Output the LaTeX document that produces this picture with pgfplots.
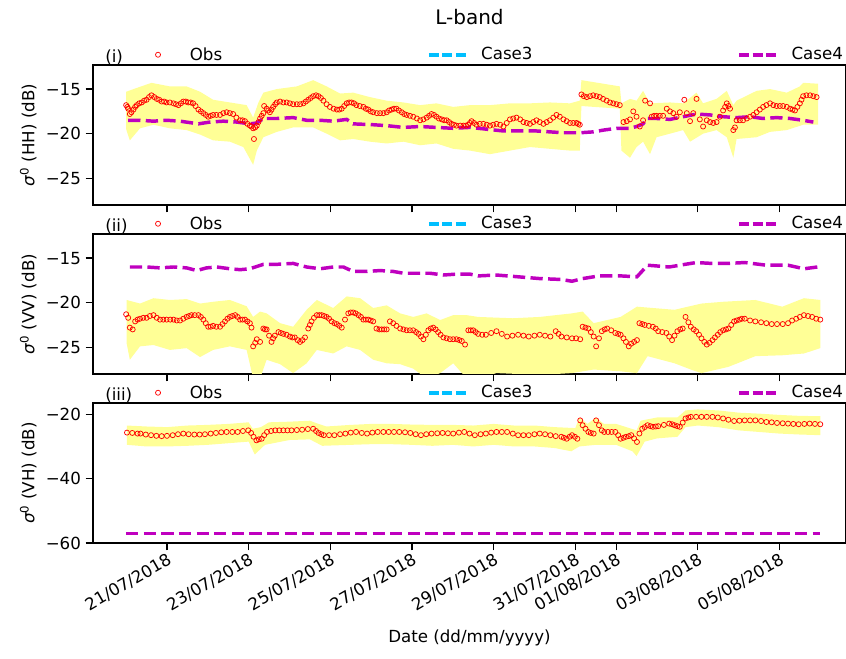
\documentclass[border=0pt]{standalone}
\usepackage{pgfplots}
\pgfplotsset{compat=1.18}
\usepgfplotslibrary{fillbetween}
\usepackage{fontspec}
\setmainfont{DejaVu Sans}
\definecolor{bandyel}{RGB}{255,255,150}
\definecolor{cfour}{RGB}{191,0,191}
\definecolor{cthree}{RGB}{0,191,255}
\newcommand{\fs}{\fontsize{12.5}{15}\selectfont}
\pgfplotsset{
  mylineleg/.style={legend image code/.code={\path[draw=none,fill=none] (0pt,-2pt) rectangle (27.75pt,2pt); \draw[##1, line width=3pt, dash pattern=on 7.5pt off 2.6pt] (0pt,0pt) -- (27.7pt,0pt);}},
  mymarkleg/.style={legend image code/.code={\path[draw=none,fill=none] (0pt,-2pt) rectangle (27.75pt,2pt); \draw[##1] plot coordinates {(13.875pt,0pt)};}},
  panel/.style={
    width=564.75pt, height=105pt, scale only axis,
    xmin=-1.812, xmax=16.63,
    axis line style={black, line width=0.9pt},
    tick align=outside, xtick pos=left, ytick pos=left,
    major tick length=5.5pt, tick style={black, line width=0.9pt},
    xtick={0,2,4,6,8,10,11,13,15},
    tick label style={font=\fs},
    label style={font=\fs},
    legend columns=3, legend cell align=left,
    legend style={at={(rel axis cs:0,1)}, anchor=south west, xshift=34.9pt, yshift=2.2pt,
      draw=none, fill=none, inner sep=0pt, outer sep=0pt, column sep=0pt,
      nodes={inner sep=0pt, outer sep=0pt}, font=\fs,
      /tikz/every even column/.append style={column sep=153.5pt}},
    obsst/.style={only marks, mark=o, mark size=1.9pt, mark options={draw=red, line width=0.55pt}, mymarkleg},
    c4st/.style={cfour, line width=2.6pt, dash pattern=on 9.2pt off 4pt, mylineleg},
    c3st/.style={cthree, line width=2.6pt, dash pattern=on 9.2pt off 4pt, mylineleg},
  },
}
\begin{document}
\begin{tikzpicture}
%================ (i) HH
\begin{axis}[panel, at={(0pt,0pt)}, anchor=north west,
  ymin=-28, ymax=-12.3, ytick={-25,-20,-15}, yticklabels={−25,−20,−15},
  xticklabels={},
  ylabel={{\itshape σ}\textsuperscript{0} (HH) (dB)},
  after end axis/.code={
    \node[anchor=base west, inner sep=0pt, font=\fs] at ([xshift=9pt,yshift=2.2pt]rel axis cs:0,1) {(i)};
    \node[anchor=base, inner sep=0pt, font=\fontsize{15}{18}\selectfont] at ([yshift=30pt]rel axis cs:0.5,1) {L-band};
  }]
\addplot[name path=up1, draw=none, forget plot] coordinates {(-1.00,-15.3) (-0.82,-15.0) (-0.38,-14.3) (0.07,-14.7) (0.48,-14.7) (0.81,-15.3) (1.13,-16.2) (1.54,-16.5) (1.95,-16.8) (2.11,-18.2) (2.24,-16.5) (2.36,-15.4) (2.69,-15.0) (3.18,-14.7) (3.58,-14.0) (3.91,-14.7) (4.24,-15.5) (4.56,-15.4) (4.97,-15.9) (5.38,-16.3) (5.79,-16.5) (6.20,-16.8) (6.60,-16.6) (7.01,-17.0) (7.42,-16.8) (7.91,-16.8) (8.40,-16.6) (8.89,-16.6) (9.38,-16.5) (9.87,-16.6) (10.11,-16.3) (10.15,-14.0) (10.69,-14.4) (11.09,-14.7) (11.13,-16.6) (11.34,-16.1) (11.50,-16.3) (11.66,-15.2) (11.83,-16.6) (12.32,-16.5) (12.64,-16.6) (12.97,-15.4) (13.13,-16.6) (13.46,-16.1) (13.71,-15.2) (13.87,-16.8) (13.95,-16.3) (14.44,-15.2) (14.77,-15.0) (15.18,-15.4) (15.50,-14.7) (15.58,-14.3) (15.95,-14.4)};
\addplot[name path=lo1, draw=none, forget plot] coordinates {(-1.00,-19.5) (-0.91,-20.75) (-0.66,-19.4) (-0.33,-19.0) (0.07,-19.4) (0.48,-19.6) (0.81,-20.1) (1.13,-20.75) (1.54,-20.9) (1.87,-21.5) (2.11,-23.5) (2.20,-21.9) (2.36,-20.4) (2.69,-19.8) (3.09,-19.3) (3.58,-19.3) (3.91,-20.0) (4.24,-20.75) (4.56,-20.6) (4.97,-20.9) (5.38,-21.1) (5.79,-20.9) (6.20,-21.3) (6.60,-21.1) (7.01,-21.7) (7.42,-21.9) (7.91,-22.3) (8.40,-21.9) (8.89,-21.5) (9.38,-21.7) (9.87,-21.9) (10.11,-21.9) (10.15,-16.9) (11.09,-17.2) (11.13,-21.9) (11.34,-22.7) (11.50,-21.5) (11.66,-20.9) (11.83,-22.3) (11.99,-20.4) (12.32,-20.0) (12.64,-19.6) (12.81,-20.9) (13.13,-20.0) (13.46,-19.6) (13.71,-20.4) (13.87,-22.7) (13.95,-20.6) (14.44,-20.4) (14.77,-19.8) (15.18,-19.6) (15.58,-19.0) (15.95,-19.0)};
\addplot[bandyel, draw=none, forget plot] fill between[of=up1 and lo1];
\addplot[obsst] coordinates {(-1.00,-16.8) (-0.97,-17.0) (-0.95,-17.2) (-0.91,-17.8) (-0.87,-17.6) (-0.82,-17.3) (-0.78,-17.0) (-0.74,-16.8) (-0.68,-16.6) (-0.62,-16.5) (-0.56,-16.3) (-0.50,-16.2) (-0.44,-15.9) (-0.38,-15.7) (-0.31,-15.9) (-0.25,-16.1) (-0.19,-16.2) (-0.13,-16.4) (-0.07,-16.4) (-0.01,-16.5) (0.07,-16.5) (0.16,-16.6) (0.22,-16.7) (0.28,-16.8) (0.34,-16.6) (0.40,-16.4) (0.46,-16.4) (0.52,-16.5) (0.58,-16.5) (0.64,-16.6) (0.70,-16.9) (0.77,-17.3) (0.83,-17.5) (0.89,-17.7) (0.95,-17.9) (1.01,-18.1) (1.07,-18.0) (1.13,-17.9) (1.21,-17.9) (1.30,-17.9) (1.38,-17.7) (1.46,-17.6) (1.54,-17.7) (1.62,-17.8) (1.70,-18.2) (1.79,-18.5) (1.85,-18.5) (1.91,-18.6) (1.97,-18.9) (2.03,-19.1) (2.07,-19.2) (2.11,-19.4) (2.13,-20.6) (2.16,-19.3) (2.20,-19.1) (2.24,-18.7) (2.28,-18.3) (2.32,-18.0) (2.36,-17.7) (2.38,-16.9) (2.44,-17.2) (2.48,-17.4) (2.52,-17.6) (2.56,-17.3) (2.60,-17.0) (2.65,-16.7) (2.69,-16.5) (2.77,-16.4) (2.85,-16.5) (2.93,-16.5) (3.01,-16.6) (3.09,-16.7) (3.18,-16.7) (3.26,-16.7) (3.34,-16.6) (3.40,-16.4) (3.46,-16.2) (3.52,-16.0) (3.58,-15.8) (3.65,-15.7) (3.71,-15.8) (3.77,-16.0) (3.83,-16.3) (3.91,-16.7) (3.99,-17.0) (4.08,-17.2) (4.16,-17.3) (4.22,-17.3) (4.28,-17.2) (4.34,-16.9) (4.40,-16.6) (4.46,-16.5) (4.52,-16.5) (4.58,-16.6) (4.64,-16.8) (4.72,-16.9) (4.81,-17.0) (4.87,-17.2) (4.93,-17.3) (4.99,-17.5) (5.05,-17.6) (5.14,-17.7) (5.22,-17.7) (5.30,-17.7) (5.38,-17.6) (5.44,-17.4) (5.50,-17.3) (5.56,-17.2) (5.62,-17.2) (5.68,-17.4) (5.75,-17.6) (5.81,-17.8) (5.87,-17.9) (5.95,-18.0) (6.03,-18.1) (6.12,-18.3) (6.20,-18.5) (6.28,-18.4) (6.36,-18.2) (6.42,-18.0) (6.48,-17.8) (6.54,-17.9) (6.60,-18.1) (6.66,-18.3) (6.73,-18.4) (6.79,-18.5) (6.85,-18.5) (6.91,-18.7) (6.97,-18.9) (7.03,-19.0) (7.09,-19.1) (7.18,-19.1) (7.26,-19.1) (7.32,-19.1) (7.38,-19.0) (7.42,-18.8) (7.46,-18.6) (7.52,-18.8) (7.58,-19.0) (7.66,-18.9) (7.75,-18.9) (7.83,-19.0) (7.91,-19.1) (7.99,-19.0) (8.07,-18.9) (8.16,-19.0) (8.24,-19.2) (8.32,-18.8) (8.40,-18.4) (8.48,-18.3) (8.56,-18.2) (8.65,-18.4) (8.73,-18.7) (8.81,-18.8) (8.89,-18.9) (8.97,-18.7) (9.05,-18.5) (9.13,-18.7) (9.22,-18.9) (9.30,-18.7) (9.38,-18.5) (9.46,-18.2) (9.54,-17.9) (9.62,-18.1) (9.71,-18.4) (9.79,-18.6) (9.87,-18.8) (9.95,-18.8) (10.03,-18.8) (10.07,-18.9) (10.11,-19.0) (10.15,-15.6) (10.21,-15.8) (10.28,-15.9) (10.36,-15.8) (10.44,-15.7) (10.52,-15.8) (10.60,-15.9) (10.68,-16.1) (10.77,-16.3) (10.85,-16.5) (10.93,-16.6) (11.01,-16.7) (11.09,-16.8) (11.18,-18.7) (11.26,-18.6) (11.34,-18.4) (11.42,-17.5) (11.50,-18.1) (11.58,-19.2) (11.66,-18.5) (11.71,-16.3) (11.83,-16.6) (11.87,-18.1) (11.93,-18.0) (11.99,-18.0) (12.07,-18.0) (12.15,-18.0) (12.24,-17.2) (12.32,-17.5) (12.40,-17.7) (12.48,-18.1) (12.56,-17.6) (12.67,-16.2) (12.73,-17.7) (12.81,-18.6) (12.89,-17.7) (12.97,-16.1) (13.05,-18.4) (13.13,-19.2) (13.22,-18.5) (13.30,-18.7) (13.38,-18.8) (13.46,-18.7) (13.54,-18.1) (13.62,-17.4) (13.67,-17.0) (13.71,-16.6) (13.75,-16.9) (13.79,-17.2) (13.87,-19.6) (13.91,-19.3) (13.95,-18.5) (14.03,-18.5) (14.11,-18.5) (14.20,-18.3) (14.28,-18.1) (14.36,-17.9) (14.44,-17.6) (14.52,-17.3) (14.60,-17.0) (14.68,-16.8) (14.77,-16.6) (14.85,-16.8) (14.93,-16.9) (15.01,-16.9) (15.09,-16.9) (15.18,-17.0) (15.26,-17.2) (15.32,-17.3) (15.38,-17.4) (15.44,-17.0) (15.50,-16.6) (15.54,-16.2) (15.58,-15.8) (15.66,-15.7) (15.75,-15.7) (15.83,-15.8) (15.91,-15.9)};
\addlegendentry{\hspace*{10pt}Obs}
\addlegendimage{c3st}
\addlegendentry{\hspace*{10pt}Case3}
\addplot[c4st] coordinates {(-0.95,-18.5) (-0.66,-18.5) (-0.33,-18.6) (-0.01,-18.5) (0.32,-18.6) (0.77,-18.9) (1.05,-18.7) (1.38,-18.6) (1.71,-18.7) (2.03,-18.9) (2.20,-18.8) (2.36,-18.3) (2.69,-18.3) (3.09,-18.2) (3.42,-18.5) (3.75,-18.5) (4.07,-18.6) (4.40,-18.4) (4.56,-18.9) (5.05,-19.0) (5.38,-19.1) (5.79,-19.3) (6.20,-19.2) (6.60,-19.3) (7.01,-19.4) (7.42,-19.3) (8.24,-19.7) (9.05,-19.7) (9.71,-19.9) (10.11,-19.9) (10.44,-19.8) (10.69,-19.6) (11.01,-19.4) (11.34,-19.4) (11.50,-19.2) (11.66,-18.9) (11.75,-18.3) (11.99,-18.3) (12.32,-18.4) (12.64,-18.1) (12.97,-17.8) (13.30,-17.9) (13.62,-18.1) (13.95,-18.2) (14.28,-18.1) (14.60,-18.3) (14.93,-18.2) (15.26,-18.3) (15.58,-18.5) (15.83,-18.7)};
\addlegendentry{\hspace*{10pt}Case4}
\end{axis}
%================ (ii) VV
\begin{axis}[panel, at={(0pt,-126.75pt)}, anchor=north west,
  ymin=-28, ymax=-12.3, ytick={-25,-20,-15}, yticklabels={−25,−20,−15},
  xticklabels={},
  ylabel={{\itshape σ}\textsuperscript{0} (VV) (dB)},
  after end axis/.code={
    \node[anchor=base west, inner sep=0pt, font=\fs] at ([xshift=9pt,yshift=2.2pt]rel axis cs:0,1) {(ii)};
  }]
\addplot[name path=up2, draw=none, forget plot] coordinates {(-0.99,-19.7) (-0.66,-20.1) (-0.33,-19.5) (0.07,-19.7) (0.48,-19.6) (0.81,-20.1) (1.13,-19.9) (1.54,-19.7) (1.95,-20.4) (2.11,-21.6) (2.28,-21.0) (2.44,-21.2) (2.77,-22.3) (3.09,-22.7) (3.42,-20.8) (3.67,-19.7) (4.07,-20.6) (4.40,-19.3) (4.73,-19.5) (5.05,-20.6) (5.38,-20.3) (5.71,-21.2) (6.03,-21.6) (6.36,-21.2) (6.69,-21.95) (7.01,-21.4) (7.34,-21.4) (7.62,-21.6) (8.47,-21.75) (9.13,-21.6) (9.92,-21.2) (10.18,-21.0) (10.45,-22.3) (11.11,-21.6) (11.51,-20.45) (12.43,-20.8) (13.09,-20.1) (13.62,-19.9) (14.41,-19.7) (15.07,-20.45) (15.60,-19.5) (16.00,-19.7)};
\addplot[name path=lo2, draw=none, forget plot] coordinates {(-0.99,-24.5) (-0.91,-26.4) (-0.66,-24.9) (-0.33,-24.75) (0.07,-25.3) (0.48,-25.1) (0.81,-26.1) (1.13,-25.3) (1.54,-24.9) (1.95,-25.3) (2.11,-28.5) (2.28,-28.5) (2.44,-26.4) (2.77,-26.9) (3.09,-27.9) (3.42,-26.8) (3.67,-25.3) (4.07,-25.7) (4.40,-24.9) (4.73,-25.3) (5.05,-26.4) (5.38,-26.8) (5.71,-26.9) (6.03,-27.4) (6.36,-28.5) (6.69,-27.9) (7.01,-26.8) (7.34,-28.5) (7.62,-28.5) (8.07,-27.9) (9.13,-28.1) (9.92,-27.9) (10.45,-27.5) (11.11,-27.7) (11.51,-27.9) (11.77,-26.0) (12.43,-26.8) (12.83,-27.5) (13.09,-27.9) (13.75,-27.2) (14.41,-26.0) (15.07,-25.9) (15.60,-25.7) (16.00,-25.1)};
\addplot[bandyel, draw=none, forget plot] fill between[of=up2 and lo2];
\addplot[obsst] coordinates {(-1.00,-21.3) (-0.95,-21.7) (-0.91,-22.8) (-0.84,-23.0) (-0.78,-22.1) (-0.72,-21.9) (-0.66,-21.8) (-0.58,-21.7) (-0.50,-21.7) (-0.42,-21.5) (-0.33,-21.4) (-0.25,-21.7) (-0.17,-21.9) (-0.09,-21.9) (-0.01,-21.9) (0.08,-21.9) (0.16,-21.9) (0.24,-22.0) (0.32,-22.0) (0.40,-21.8) (0.48,-21.6) (0.54,-21.5) (0.60,-21.4) (0.68,-21.4) (0.77,-21.4) (0.83,-21.6) (0.89,-21.9) (0.95,-22.3) (1.01,-22.7) (1.07,-22.7) (1.13,-22.6) (1.21,-22.7) (1.30,-22.7) (1.36,-22.4) (1.42,-22.1) (1.48,-21.8) (1.54,-21.6) (1.60,-21.5) (1.67,-21.4) (1.73,-21.6) (1.79,-21.9) (1.85,-21.9) (1.91,-21.9) (1.97,-22.1) (2.03,-22.3) (2.07,-22.8) (2.11,-24.9) (2.16,-24.5) (2.20,-24.1) (2.28,-24.4) (2.36,-22.9) (2.40,-23.0) (2.44,-23.0) (2.50,-23.7) (2.56,-24.4) (2.60,-24.0) (2.64,-23.7) (2.73,-23.3) (2.79,-23.4) (2.85,-23.5) (2.93,-23.6) (3.01,-23.8) (3.07,-23.9) (3.13,-23.9) (3.20,-24.2) (3.26,-24.4) (3.32,-24.2) (3.38,-23.9) (3.46,-22.9) (3.50,-22.5) (3.54,-22.1) (3.60,-21.7) (3.67,-21.4) (3.73,-21.4) (3.79,-21.4) (3.85,-21.5) (3.91,-21.6) (3.97,-21.8) (4.03,-22.1) (4.10,-22.3) (4.16,-22.4) (4.22,-22.6) (4.28,-22.8) (4.36,-21.9) (4.44,-21.2) (4.50,-21.1) (4.56,-21.1) (4.62,-21.2) (4.69,-21.4) (4.75,-21.6) (4.81,-21.9) (4.87,-21.9) (4.93,-21.9) (4.99,-22.0) (5.05,-22.1) (5.13,-22.9) (5.20,-23.0) (5.26,-23.0) (5.32,-23.0) (5.38,-23.0) (5.46,-22.1) (5.54,-22.3) (5.62,-22.6) (5.71,-22.9) (5.79,-23.0) (5.87,-23.1) (5.95,-23.1) (6.03,-23.1) (6.10,-23.3) (6.16,-23.5) (6.22,-23.8) (6.28,-24.1) (6.34,-23.6) (6.40,-23.1) (6.46,-22.9) (6.52,-22.8) (6.58,-23.0) (6.64,-23.3) (6.70,-23.6) (6.77,-23.9) (6.85,-24.0) (6.93,-24.1) (7.01,-24.1) (7.09,-24.1) (7.16,-24.2) (7.22,-24.3) (7.30,-24.7) (7.38,-23.1) (7.44,-23.1) (7.50,-23.1) (7.56,-23.3) (7.62,-23.5) (7.72,-23.6) (7.81,-23.6) (7.94,-23.4) (8.07,-23.2) (8.20,-23.5) (8.33,-23.8) (8.46,-23.7) (8.60,-23.6) (8.73,-23.7) (8.86,-23.8) (9.00,-23.7) (9.13,-23.6) (9.26,-23.7) (9.39,-23.8) (9.52,-23.2) (9.59,-23.5) (9.66,-23.8) (9.79,-23.9) (9.92,-24.0) (10.02,-24.0) (10.12,-24.1) (10.18,-22.7) (10.25,-22.8) (10.32,-22.9) (10.38,-23.3) (10.45,-23.8) (10.51,-24.9) (10.58,-24.0) (10.65,-23.2) (10.72,-23.0) (10.78,-22.9) (10.88,-23.1) (10.98,-23.4) (11.05,-23.5) (11.11,-23.6) (11.18,-24.0) (11.24,-24.4) (11.31,-24.9) (11.37,-24.6) (11.44,-24.4) (11.51,-24.2) (11.57,-22.3) (11.64,-22.4) (11.70,-22.5) (11.80,-22.6) (11.90,-22.7) (11.97,-22.9) (12.03,-23.2) (12.13,-23.3) (12.23,-23.4) (12.30,-23.8) (12.37,-24.2) (12.43,-23.7) (12.50,-23.2) (12.57,-23.0) (12.63,-22.9) (12.70,-21.6) (12.77,-22.2) (12.83,-22.7) (12.90,-23.0) (12.96,-23.2) (13.03,-23.6) (13.09,-24.0) (13.16,-24.4) (13.22,-24.7) (13.29,-24.5) (13.36,-24.2) (13.42,-23.9) (13.49,-23.6) (13.55,-23.3) (13.62,-23.1) (13.69,-23.0) (13.75,-22.9) (13.82,-22.5) (13.89,-22.1) (13.95,-22.0) (14.02,-21.9) (14.08,-21.8) (14.15,-21.8) (14.28,-22.0) (14.41,-22.1) (14.55,-22.2) (14.68,-22.3) (14.81,-22.4) (14.94,-22.4) (15.08,-22.4) (15.21,-22.3) (15.31,-22.0) (15.41,-21.8) (15.50,-21.6) (15.60,-21.4) (15.70,-21.5) (15.80,-21.6) (15.90,-21.8) (16.00,-21.9)};
\addlegendentry{\hspace*{10pt}Obs}
\addlegendimage{c3st}
\addlegendentry{\hspace*{10pt}Case3}
\addplot[c4st] coordinates {(-0.91,-16.0) (-0.50,-16.0) (-0.17,-16.1) (0.16,-16.0) (0.48,-16.1) (0.73,-16.4) (0.97,-16.1) (1.22,-16.0) (1.54,-16.2) (1.79,-16.3) (2.03,-16.2) (2.36,-15.7) (2.69,-15.7) (3.09,-15.6) (3.42,-16.0) (3.75,-16.2) (4.07,-16.0) (4.32,-16.0) (4.56,-16.5) (4.89,-16.5) (5.22,-16.4) (5.54,-16.5) (5.79,-16.7) (6.11,-16.7) (6.44,-16.7) (6.77,-16.9) (7.09,-16.8) (7.42,-16.8) (7.62,-17.0) (8.07,-16.9) (8.60,-17.1) (9.13,-17.3) (9.66,-17.4) (9.92,-17.6) (10.18,-17.3) (10.58,-17.0) (11.11,-17.0) (11.51,-17.1) (11.77,-15.8) (12.30,-16.0) (12.56,-15.8) (12.96,-15.5) (13.35,-15.6) (13.75,-15.6) (14.15,-15.5) (14.68,-15.8) (15.21,-15.8) (15.60,-16.2) (15.93,-16.0)};
\addlegendentry{\hspace*{10pt}Case4}
\end{axis}
%================ (iii) VH
\begin{axis}[panel, at={(0pt,-253.5pt)}, anchor=north west,
  ymin=-60, ymax=-16.5, ytick={-60,-40,-20}, yticklabels={−60,−40,−20},
  xticklabels={21/07/2018,23/07/2018,25/07/2018,27/07/2018,29/07/2018,31/07/2018,01/08/2018,03/08/2018,05/08/2018},
  xticklabel style={rotate=30, anchor=north east, inner sep=1pt},
  xlabel={Date (dd/mm/yyyy)}, xlabel style={yshift=-8pt},
  ylabel={{\itshape σ}\textsuperscript{0} (VH) (dB)},
  after end axis/.code={
    \node[anchor=base west, inner sep=0pt, font=\fs] at ([xshift=9pt,yshift=2.2pt]rel axis cs:0,1) {(iii)};
  }]
\addplot[name path=up3, draw=none, forget plot] coordinates {(-0.98,-23.5) (-0.5,-23.8) (0.0,-24.0) (0.5,-23.5) (1.0,-23.3) (1.5,-23.0) (2.0,-22.5) (2.1,-24.5) (2.3,-24.0) (2.5,-22.5) (3.0,-22.3) (3.5,-22.0) (3.6,-22.5) (3.9,-23.8) (4.5,-23.3) (5.0,-23.0) (5.5,-23.0) (6.0,-23.2) (6.5,-23.3) (7.0,-23.3) (7.5,-23.5) (8.0,-23.0) (8.5,-23.5) (9.0,-23.5) (9.5,-24.0) (10.0,-24.3) (10.1,-21.0) (10.3,-23.0) (10.5,-21.0) (10.7,-23.0) (11.0,-23.0) (11.5,-25.0) (11.6,-22.0) (12.0,-21.0) (12.5,-21.0) (12.7,-18.8) (13.0,-18.5) (13.5,-18.8) (14.0,-19.5) (14.5,-19.8) (15.0,-20.2) (15.5,-20.5) (16.0,-20.6)};
\addplot[name path=lo3, draw=none, forget plot] coordinates {(-0.98,-29.5) (-0.5,-30.0) (0.0,-30.0) (0.5,-29.8) (1.0,-29.5) (1.5,-29.0) (2.0,-28.5) (2.15,-32.5) (2.4,-29.5) (3.0,-28.0) (3.5,-27.8) (3.8,-29.8) (4.5,-29.5) (5.0,-29.3) (5.5,-29.3) (6.0,-29.5) (6.5,-29.8) (7.0,-29.5) (7.5,-30.0) (8.0,-29.5) (8.5,-30.0) (9.0,-30.0) (9.5,-30.5) (9.9,-31.5) (10.1,-30.0) (10.5,-29.5) (11.0,-29.5) (11.4,-31.5) (11.5,-33.0) (11.7,-28.5) (12.0,-27.5) (12.5,-27.0) (12.7,-24.0) (13.0,-23.5) (13.5,-24.0) (14.0,-25.0) (14.5,-25.5) (15.0,-26.0) (15.5,-26.3) (16.0,-26.5)};
\addplot[bandyel, draw=none, forget plot] fill between[of=up3 and lo3];
\addplot[obsst] coordinates {(-0.98,-25.7) (-0.85,-25.8) (-0.72,-26.0) (-0.65,-26.0) (-0.52,-26.3) (-0.39,-26.5) (-0.26,-26.7) (-0.13,-26.8) (0.00,-26.7) (0.14,-26.5) (0.27,-26.2) (0.40,-26.0) (0.53,-26.2) (0.67,-26.3) (0.80,-26.3) (0.93,-26.2) (1.07,-26.0) (1.20,-25.8) (1.33,-25.6) (1.46,-25.5) (1.60,-25.5) (1.73,-25.5) (1.86,-25.2) (1.99,-25.0) (2.06,-25.8) (2.12,-27.0) (2.19,-28.1) (2.25,-27.8) (2.32,-27.6) (2.38,-26.5) (2.45,-25.5) (2.55,-25.2) (2.65,-25.0) (2.75,-25.0) (2.85,-25.0) (2.95,-25.0) (3.05,-25.0) (3.18,-24.9) (3.31,-24.8) (3.45,-24.6) (3.58,-24.5) (3.65,-25.2) (3.71,-25.8) (3.78,-26.2) (3.84,-26.5) (3.97,-26.5) (4.10,-26.5) (4.24,-26.2) (4.37,-26.0) (4.50,-25.7) (4.63,-25.5) (4.77,-25.8) (4.90,-26.0) (5.03,-25.7) (5.16,-25.5) (5.30,-25.5) (5.43,-25.5) (5.56,-25.5) (5.69,-25.5) (5.83,-25.6) (5.96,-25.8) (6.09,-26.2) (6.22,-26.5) (6.35,-26.2) (6.48,-26.0) (6.62,-25.9) (6.75,-25.8) (6.88,-25.9) (7.01,-26.0) (7.15,-25.7) (7.28,-25.5) (7.41,-26.0) (7.54,-26.5) (7.68,-26.2) (7.81,-26.0) (7.94,-25.7) (8.07,-25.5) (8.20,-25.5) (8.33,-25.5) (8.47,-26.0) (8.60,-26.5) (8.73,-26.5) (8.86,-26.5) (9.00,-26.2) (9.13,-26.0) (9.26,-26.2) (9.39,-26.5) (9.52,-26.8) (9.66,-27.0) (9.72,-27.3) (9.79,-27.6) (9.86,-27.0) (9.92,-26.5) (9.99,-27.0) (10.05,-27.6) (10.12,-21.9) (10.18,-23.4) (10.25,-24.5) (10.32,-25.5) (10.38,-25.8) (10.45,-26.0) (10.51,-21.9) (10.58,-23.4) (10.65,-25.0) (10.71,-25.5) (10.80,-25.5) (10.89,-25.5) (10.98,-25.5) (11.05,-26.5) (11.11,-27.6) (11.18,-27.3) (11.24,-27.0) (11.31,-26.8) (11.37,-26.5) (11.44,-27.5) (11.51,-28.6) (11.57,-26.0) (11.64,-24.5) (11.70,-24.0) (11.77,-23.4) (11.84,-23.7) (11.90,-23.9) (11.97,-23.8) (12.03,-23.7) (12.17,-23.3) (12.30,-22.9) (12.37,-23.1) (12.43,-23.4) (12.50,-23.7) (12.56,-23.9) (12.63,-22.6) (12.70,-21.3) (12.77,-21.0) (12.83,-20.8) (12.96,-20.8) (13.09,-20.8) (13.22,-20.8) (13.36,-20.8) (13.49,-21.0) (13.62,-21.3) (13.75,-21.7) (13.89,-22.1) (14.02,-22.0) (14.15,-21.9) (14.28,-21.9) (14.41,-21.9) (14.55,-22.1) (14.68,-22.4) (14.81,-22.5) (14.94,-22.7) (15.08,-22.8) (15.21,-22.9) (15.34,-23.0) (15.47,-23.1) (15.61,-23.0) (15.74,-22.9) (15.87,-23.0) (16.00,-23.1)};
\addlegendentry{\hspace*{10pt}Obs}
\addlegendimage{c3st}
\addlegendentry{\hspace*{10pt}Case3}
\addplot[c4st] coordinates {(-1.00,-57.1) (16.00,-57.1)};
\addlegendentry{\hspace*{10pt}Case4}
\end{axis}
\pgfresetboundingbox
\useasboundingbox (-69.75pt,48.75pt) rectangle (564.75pt,-445.5pt);
\end{tikzpicture}
\end{document}
